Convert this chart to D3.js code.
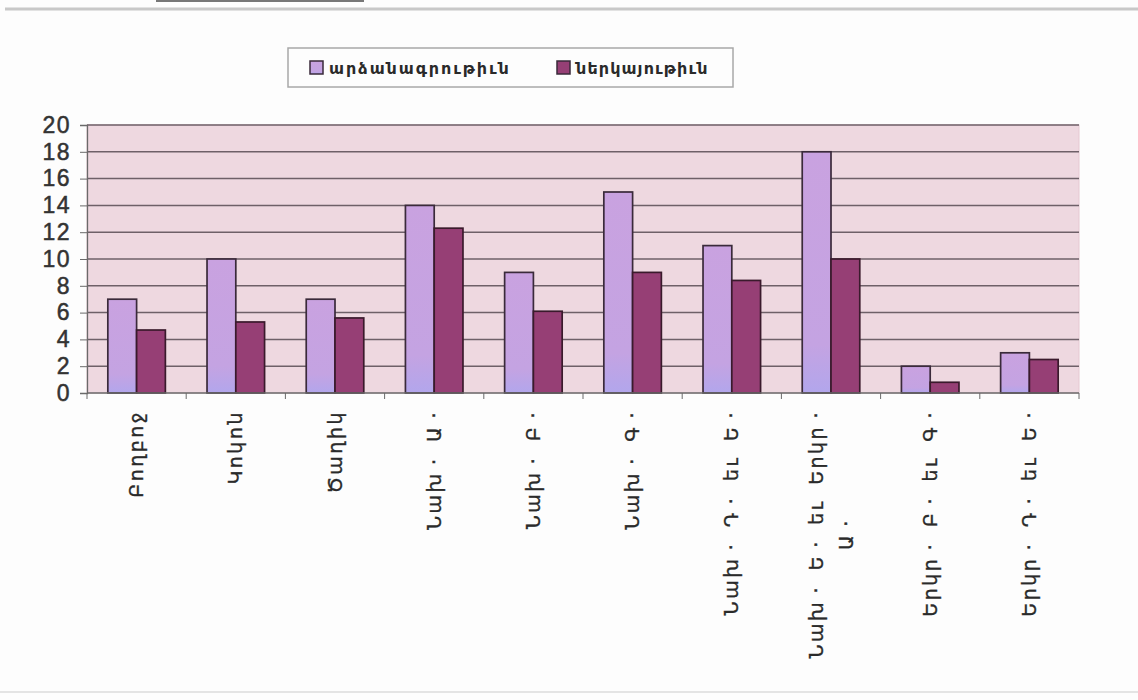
<!DOCTYPE html>
<html>
<head>
<meta charset="utf-8">
<script src="https://cdn.jsdelivr.net/npm/d3@7"></script>
<style>
  body { margin: 0; background: #fdfdfd; }
  svg { display: block; }
</style>
</head>
<body>
<svg id="chart" width="1138" height="700"></svg>
<script>
// groups (kindergarten / school classes)
var categories = [
  ["Բողբոջ"],
  ["Կոկոն"],
  ["Ծաղիկ"],
  ["Նախ. Ա."],
  ["Նախ. Բ."],
  ["Նախ. Գ."],
  ["Նախ. Դ. եւ Ե."],
  ["Նախ. Ե. եւ Երկր.", "Ա."],
  ["Երկր. Բ. եւ Գ."],
  ["Երկր. Դ. եւ Ե."]
];
var seriesNames = ["արձանագրութիւն", "ներկայութիւն"];
var enrolled = [7, 10, 7, 14, 9, 15, 11, 18, 2, 3];
var present = [4.7, 5.3, 5.6, 12.3, 6.1, 9.0, 8.4, 10.0, 0.8, 2.5];
var yTicks = [0, 2, 4, 6, 8, 10, 12, 14, 16, 18, 20];

var svg = d3.select("#chart");
var plotLeft = 87, plotRight = 1079, plotTop = 125, plotBottom = 393;

// faint scan lines at the top and bottom of the page
svg.append("line").attr("x1", 5).attr("x2", 1138).attr("y1", 9).attr("y2", 9)
  .attr("stroke", "#c8c8c8").attr("stroke-width", 3);
svg.append("line").attr("x1", 156).attr("x2", 364).attr("y1", 1).attr("y2", 1)
  .attr("stroke", "#777").attr("stroke-width", 2);
svg.append("line").attr("x1", 0).attr("x2", 1138).attr("y1", 692).attr("y2", 692)
  .attr("stroke", "#e4e4e4").attr("stroke-width", 2);

var defs = svg.append("defs");
var g1 = defs.append("linearGradient").attr("id", "lightGrad")
  .attr("x1", 0).attr("x2", 0).attr("y1", 0).attr("y2", 1);
g1.append("stop").attr("offset", "0%").attr("stop-color", "#c9a2e0");
g1.append("stop").attr("offset", "80%").attr("stop-color", "#c4a3e2");
g1.append("stop").attr("offset", "100%").attr("stop-color", "#b2a6ec");

var x0 = d3.scaleBand().domain(d3.range(categories.length)).range([plotLeft, plotRight]);
var x1 = d3.scaleBand().domain([0, 1])
  .range([x0.bandwidth() * 0.21, x0.bandwidth() * 0.79]);
var y = d3.scaleLinear().domain([0, 20]).range([plotBottom, plotTop]);

// plot area
svg.append("rect")
  .attr("x", plotLeft).attr("y", plotTop)
  .attr("width", plotRight - plotLeft).attr("height", plotBottom - plotTop)
  .attr("fill", "#eed8e0").attr("stroke", "#e6c8d2");

// grid lines
svg.append("g").selectAll("line")
  .data(yTicks.slice(1))
  .enter().append("line")
  .attr("x1", plotLeft).attr("x2", plotRight)
  .attr("y1", function(d) { return y(d); })
  .attr("y2", function(d) { return y(d); })
  .attr("stroke", "#6e6068").attr("stroke-width", 1.5);

// bars
var groups = svg.append("g").selectAll("g")
  .data(categories)
  .enter().append("g")
  .attr("transform", function(d, i) { return "translate(" + x0(i) + ",0)"; });

groups.append("rect")
  .attr("x", x1(0)).attr("width", x1.bandwidth())
  .attr("y", function(d, i) { return y(enrolled[i]); })
  .attr("height", function(d, i) { return plotBottom - y(enrolled[i]); })
  .attr("fill", "url(#lightGrad)").attr("stroke", "#3a2a3a").attr("stroke-width", 1.7);

groups.append("rect")
  .attr("x", x1(1)).attr("width", x1.bandwidth())
  .attr("y", function(d, i) { return y(present[i]); })
  .attr("height", function(d, i) { return plotBottom - y(present[i]); })
  .attr("fill", "#963f75").attr("stroke", "#3a1a2c").attr("stroke-width", 1.7);

// y axis
var yAxis = d3.axisLeft(y).tickValues(yTicks).tickSize(7).tickPadding(9);
var ya = svg.append("g").attr("transform", "translate(" + plotLeft + ",0)").call(yAxis);
ya.select(".domain").attr("stroke", "#6a6a6a").attr("stroke-width", 1.3);
ya.selectAll(".tick line").attr("stroke", "#6a6a6a");
ya.selectAll("text")
  .attr("font-family", "Liberation Sans, Arial, sans-serif")
  .attr("font-size", 23).attr("fill", "#333")
  .attr("stroke", "#333").attr("stroke-width", 0.5)
  .attr("letter-spacing", 1.5);

// x axis
var xa = svg.append("g").attr("transform", "translate(0," + plotBottom + ")");
xa.append("line").attr("x1", plotLeft).attr("x2", plotRight).attr("stroke", "#6a6a6a").attr("stroke-width", 1.3);
xa.selectAll(".xt")
  .data(d3.range(categories.length + 1))
  .enter().append("line")
  .attr("x1", function(i) { return plotLeft + i * x0.step(); })
  .attr("x2", function(i) { return plotLeft + i * x0.step(); })
  .attr("y1", 0).attr("y2", 6).attr("stroke", "#6a6a6a");

// the scanned font draws the abbreviation dot raised and spaced
function show(s) { return s.replace(/\./g, "\u2009\u00B7"); }

// rotated category labels
var labels = svg.append("g").selectAll("text")
  .data(categories)
  .enter().append("text")
  .attr("font-family", "DejaVu Sans, sans-serif")
  .attr("font-size", 19).attr("fill", "#2a2a2a")
  .attr("stroke", "#2a2a2a").attr("stroke-width", 0.35)
  .attr("letter-spacing", 2.5).attr("word-spacing", 6)
  .attr("transform", function(d, i) {
    var cx = x0(i) + x0.bandwidth() / 2;
    return "translate(" + cx + "," + (plotBottom + 17) + ") rotate(-90)";
  });

labels.each(function(d) {
  var t = d3.select(this);
  if (d.length === 1) {
    t.append("tspan").attr("x", 0).attr("dy", "0.35em")
      .attr("text-anchor", "end").text(show(d[0]));
  } else {
    // wrapped label: second line centred under the first
    var first = t.append("tspan").attr("x", 0).attr("y", -8)
      .attr("text-anchor", "end").text(show(d[0]));
    var len = first.node().getComputedTextLength();
    t.append("tspan").attr("x", -len / 2).attr("y", 22)
      .attr("text-anchor", "middle").text(show(d[1]));
  }
});

// legend
var legend = svg.append("g");
legend.append("rect").attr("x", 288).attr("y", 48).attr("width", 445).attr("height", 39)
  .attr("fill", "#fdfdfd").attr("stroke", "#a8a8a8").attr("stroke-width", 1.5);
var legX = [310, 557];
var legFill = ["url(#lightGrad)", "#963f75"];
seriesNames.forEach(function(name, i) {
  legend.append("rect").attr("x", legX[i]).attr("y", 61).attr("width", 13).attr("height", 13)
    .attr("fill", legFill[i]).attr("stroke", "#3a2a3a").attr("stroke-width", 1.5);
  legend.append("text").attr("x", legX[i] + 19).attr("y", 74)
    .attr("font-family", "DejaVu Sans, sans-serif").attr("font-size", 16)
    .attr("font-weight", "bold").attr("letter-spacing", i === 0 ? 1.9 : 1.1)
    .attr("fill", "#2a2a2a").text(name);
});
</script>
</body>
</html>
